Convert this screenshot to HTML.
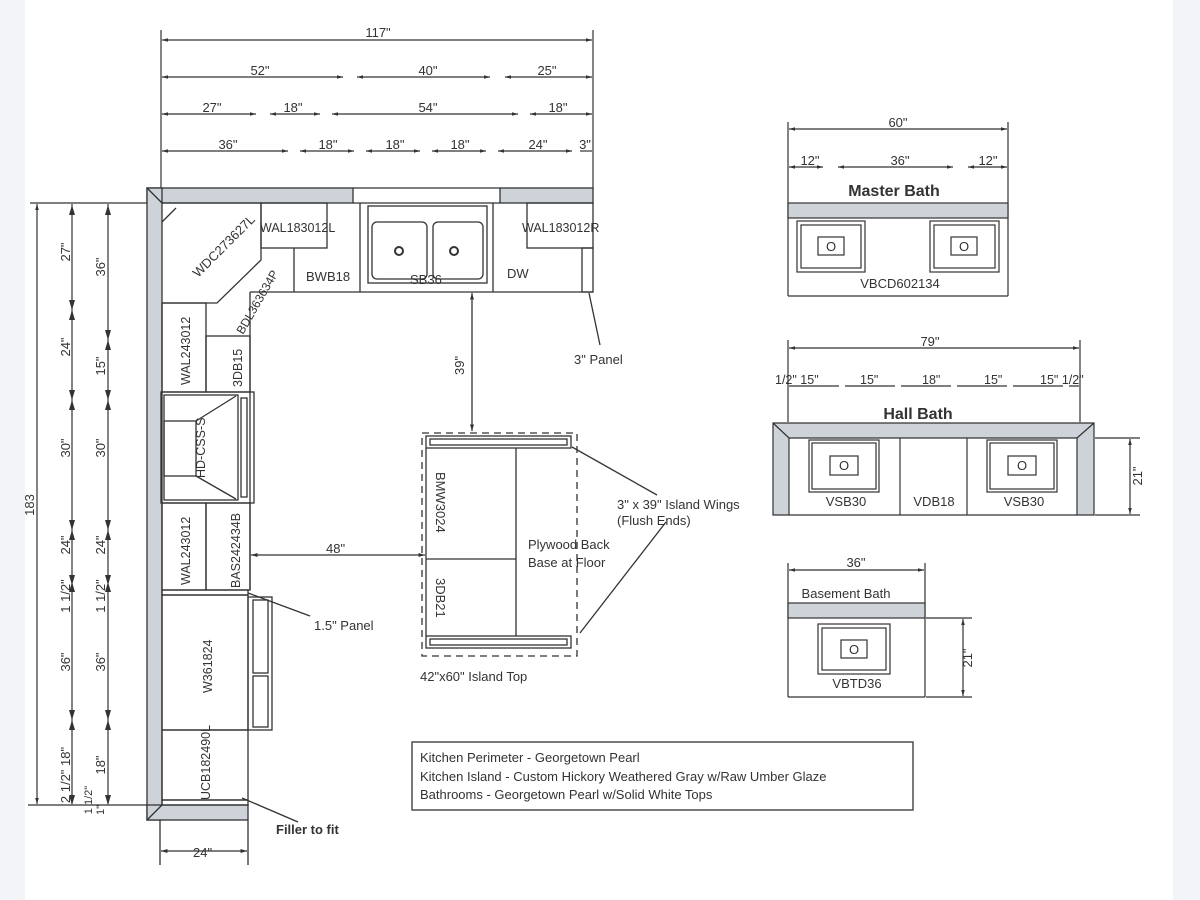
<!DOCTYPE html>
<html><head><meta charset="utf-8"><style>
html,body{margin:0;padding:0;background:#f3f4f7;}
svg{display:block;}
text{font-family:"Liberation Sans","DejaVu Sans",sans-serif;fill:#333;}
</style></head><body>
<svg width="1200" height="900" viewBox="0 0 1200 900" xmlns="http://www.w3.org/2000/svg">
<defs>
<marker id="a" viewBox="0 0 10 10" refX="10" refY="5" markerWidth="7" markerHeight="5" orient="auto-start-reverse"><path d="M0,2 L10,5 L0,8z" fill="#333"/></marker>
</defs>
<rect x="25" y="0" width="1148" height="900" fill="#fff"/>
<g stroke="#333" stroke-width="1.2" fill="none">
<!-- top dims -->
<line x1="161" y1="30" x2="161" y2="190"/><line x1="593" y1="30" x2="593" y2="190"/>
<line x1="162" y1="40" x2="592" y2="40" marker-start="url(#a)" marker-end="url(#a)"/>
<line x1="162" y1="77" x2="343" y2="77" marker-start="url(#a)" marker-end="url(#a)"/>
<line x1="357" y1="77" x2="490" y2="77" marker-start="url(#a)" marker-end="url(#a)"/>
<line x1="505" y1="77" x2="592" y2="77" marker-start="url(#a)" marker-end="url(#a)"/>
<line x1="162" y1="114" x2="256" y2="114" marker-start="url(#a)" marker-end="url(#a)"/>
<line x1="270" y1="114" x2="320" y2="114" marker-start="url(#a)" marker-end="url(#a)"/>
<line x1="332" y1="114" x2="518" y2="114" marker-start="url(#a)" marker-end="url(#a)"/>
<line x1="530" y1="114" x2="592" y2="114" marker-start="url(#a)" marker-end="url(#a)"/>
<line x1="162" y1="151" x2="288" y2="151" marker-start="url(#a)" marker-end="url(#a)"/>
<line x1="300" y1="151" x2="354" y2="151" marker-start="url(#a)" marker-end="url(#a)"/>
<line x1="366" y1="151" x2="420" y2="151" marker-start="url(#a)" marker-end="url(#a)"/>
<line x1="432" y1="151" x2="486" y2="151" marker-start="url(#a)" marker-end="url(#a)"/>
<line x1="498" y1="151" x2="572" y2="151" marker-start="url(#a)" marker-end="url(#a)"/>
<line x1="580" y1="151" x2="592" y2="151"/>
<!-- left dims -->
<line x1="30" y1="203" x2="147" y2="203"/><line x1="28" y1="805" x2="147" y2="805"/>
<line x1="37" y1="204" x2="37" y2="804" marker-start="url(#a)" marker-end="url(#a)"/>
<line x1="72" y1="204" x2="72" y2="804"/>
<line x1="108" y1="204" x2="108" y2="804"/>
</g>
<g fill="#333">
<path d="M69,215 L72,205 L75,215z M69,300 L72,310 L75,300z M69,320 L72,310 L75,320z M69,390 L72,400 L75,390z M69,410 L72,400 L75,410z M69,520 L72,530 L75,520z M69,540 L72,530 L75,540z M69,575 L72,585 L75,575z M69,592 L72,582 L75,592z M69,710 L72,720 L75,710z M69,730 L72,720 L75,730z M69,795 L72,805 L75,795z"/>
<path d="M105,215 L108,205 L111,215z M105,330 L108,340 L111,330z M105,350 L108,340 L111,350z M105,390 L108,400 L111,390z M105,410 L108,400 L111,410z M105,520 L108,530 L111,520z M105,540 L108,530 L111,540z M105,575 L108,585 L111,575z M105,592 L108,582 L111,592z M105,710 L108,720 L111,710z M105,730 L108,720 L111,730z M105,795 L108,805 L111,795z"/>
</g>
<g font-size="13">
<text x="378" y="37" text-anchor="middle">117"</text>
<text x="260" y="75" text-anchor="middle">52"</text><text x="428" y="75" text-anchor="middle">40"</text><text x="547" y="75" text-anchor="middle">25"</text>
<text x="212" y="112" text-anchor="middle">27"</text><text x="293" y="112" text-anchor="middle">18"</text><text x="428" y="112" text-anchor="middle">54"</text><text x="558" y="112" text-anchor="middle">18"</text>
<text x="228" y="149" text-anchor="middle">36"</text><text x="328" y="149" text-anchor="middle">18"</text><text x="395" y="149" text-anchor="middle">18"</text><text x="460" y="149" text-anchor="middle">18"</text><text x="538" y="149" text-anchor="middle">24"</text><text x="585" y="149" text-anchor="middle">3"</text>
</g>
<g font-size="13">
<text transform="translate(34,505) rotate(-90)" text-anchor="middle">183</text>
<text transform="translate(70,252) rotate(-90)" text-anchor="middle">27"</text>
<text transform="translate(70,347) rotate(-90)" text-anchor="middle">24"</text>
<text transform="translate(70,448) rotate(-90)" text-anchor="middle">30"</text>
<text transform="translate(70,545) rotate(-90)" text-anchor="middle">24"</text>
<text transform="translate(70,596) rotate(-90)" text-anchor="middle">1 1/2"</text>
<text transform="translate(70,662) rotate(-90)" text-anchor="middle">36"</text>
<text transform="translate(70,775) rotate(-90)" text-anchor="middle">2 1/2" 18"</text>
<text transform="translate(105,267) rotate(-90)" text-anchor="middle">36"</text>
<text transform="translate(105,366) rotate(-90)" text-anchor="middle">15"</text>
<text transform="translate(105,448) rotate(-90)" text-anchor="middle">30"</text>
<text transform="translate(105,545) rotate(-90)" text-anchor="middle">24"</text>
<text transform="translate(105,596) rotate(-90)" text-anchor="middle">1 1/2"</text>
<text transform="translate(105,662) rotate(-90)" text-anchor="middle">36"</text>
<text transform="translate(105,765) rotate(-90)" text-anchor="middle">18"</text>
<text transform="translate(92,800) rotate(-90)" text-anchor="middle" font-size="11">1 1/2"</text>
<text transform="translate(104,810) rotate(-90)" text-anchor="middle" font-size="11">1"</text>
</g>
<!-- walls -->
<g stroke="#333" stroke-width="1.3" fill="#cdd3d8">
<rect x="147" y="188" width="206" height="15"/>
<rect x="500" y="188" width="93" height="15"/>
<rect x="147" y="188" width="15" height="632"/>
<rect x="147" y="805" width="101" height="15"/>
</g>
<g stroke="#333" stroke-width="1.3" fill="none">
<line x1="353" y1="188" x2="500" y2="188"/><line x1="353" y1="203" x2="500" y2="203"/>
<line x1="147" y1="188" x2="162" y2="203"/><line x1="147" y1="820" x2="162" y2="805"/>
<!-- corner WDC -->
<path d="M162,203 L261,203 L261,260 L217,303 L162,303"/>
<line x1="162" y1="222" x2="176" y2="208"/>
<rect x="261" y="203" width="66" height="45"/>
<rect x="527" y="203" width="66" height="45"/>
<line x1="250" y1="292" x2="593" y2="292"/>
<line x1="294" y1="248" x2="294" y2="292"/>
<line x1="360" y1="203" x2="360" y2="292"/>
<line x1="493" y1="203" x2="493" y2="292"/>
<rect x="582" y="248" width="11" height="44"/>
<rect x="368" y="206" width="119" height="77"/>
<rect x="372" y="222" width="55" height="57" rx="5"/>
<rect x="433" y="222" width="50" height="57" rx="5"/>
<circle cx="399" cy="251" r="4" stroke-width="2"/><circle cx="454" cy="251" r="4" stroke-width="2"/>
<!-- left column -->
<line x1="250" y1="292" x2="250" y2="590"/>
<rect x="162" y="303" width="44" height="89"/>
<rect x="206" y="336" width="44" height="56"/>
<rect x="161" y="392" width="93" height="111"/>
<rect x="164" y="395" width="74" height="105"/>
<rect x="164" y="421" width="32" height="55"/>
<line x1="196" y1="421" x2="236" y2="396"/><line x1="196" y1="476" x2="236" y2="499"/>
<rect x="241" y="398" width="6" height="99"/>
<rect x="162" y="503" width="44" height="87"/>
<rect x="206" y="503" width="44" height="87"/>
<rect x="162" y="590" width="86" height="5"/>
<rect x="162" y="595" width="86" height="135"/>
<rect x="248" y="597" width="24" height="133"/>
<rect x="253" y="600" width="15" height="73"/><rect x="253" y="676" width="15" height="51"/>
<rect x="162" y="730" width="86" height="70"/>
<rect x="162" y="800" width="86" height="5"/>
<!-- bottom dim -->
<line x1="160" y1="820" x2="160" y2="865"/><line x1="248" y1="820" x2="248" y2="865"/>
<line x1="161" y1="851" x2="247" y2="851" marker-start="url(#a)" marker-end="url(#a)"/>
<!-- leaders -->
<line x1="589" y1="293" x2="600" y2="345"/>
<line x1="248" y1="593" x2="310" y2="616"/>
<line x1="242" y1="798" x2="298" y2="822"/>
<line x1="572" y1="447" x2="657" y2="495"/>
<line x1="580" y1="633" x2="666" y2="522"/>
<!-- 39 and 48 -->
<line x1="472" y1="293" x2="472" y2="431" marker-start="url(#a)" marker-end="url(#a)"/>
<line x1="251" y1="555" x2="425" y2="555" marker-start="url(#a)" marker-end="url(#a)"/>
<!-- island -->
<rect x="422" y="433" width="155" height="223" stroke-dasharray="7,5"/>
<rect x="426" y="436" width="145" height="12"/><rect x="430" y="439" width="137" height="6"/>
<rect x="426" y="636" width="145" height="12"/><rect x="430" y="639" width="137" height="6"/>
<line x1="426" y1="448" x2="426" y2="636"/>
<line x1="516" y1="448" x2="516" y2="636"/>
<line x1="426" y1="559" x2="516" y2="559"/>
<!-- legend -->
<rect x="412" y="742" width="501" height="68"/>
</g>
<g font-size="13">
<text transform="translate(198,278) rotate(-45)">WDC273627L</text>
<text x="260" y="232" font-size="12.5">WAL183012L</text>
<text x="522" y="232" font-size="12.5">WAL183012R</text>
<text x="306" y="281">BWB18</text>
<text x="410" y="284">SB36</text>
<text x="507" y="278">DW</text>
<text transform="translate(243,335) rotate(-60)" font-size="12">BDL363634P</text>
<text transform="translate(190,385) rotate(-90)" font-size="12.5">WAL243012</text>
<text transform="translate(242,387) rotate(-90)" font-size="12.5">3DB15</text>
<text transform="translate(205,478) rotate(-90)" font-size="12.5">HD-CSS-S</text>
<text transform="translate(190,585) rotate(-90)" font-size="12.5">WAL243012</text>
<text transform="translate(240,588) rotate(-90)" font-size="12.5">BAS242434B</text>
<text transform="translate(212,693) rotate(-90)" font-size="12.5">W361824</text>
<text transform="translate(210,800) rotate(-90)" font-size="12.5">UCB182490L</text>
<text x="574" y="364">3" Panel</text>
<text x="314" y="630">1.5" Panel</text>
<text x="276" y="834" font-weight="bold" fill="#444">Filler to fit</text>
<text x="193" y="857">24"</text>
<text transform="translate(464,375) rotate(-90)">39"</text>
<text x="326" y="553">48"</text>
<text transform="translate(436,472) rotate(90)">BMW3024</text>
<text transform="translate(436,578) rotate(90)">3DB21</text>
<text x="528" y="549">Plywood Back</text>
<text x="528" y="567">Base at Floor</text>
<text x="617" y="509">3" x 39" Island Wings</text>
<text x="617" y="525">(Flush Ends)</text>
<text x="420" y="681">42"x60" Island Top</text>
<text x="420" y="762">Kitchen Perimeter - Georgetown Pearl</text>
<text x="420" y="781">Kitchen Island - Custom Hickory Weathered Gray w/Raw Umber Glaze</text>
<text x="420" y="799">Bathrooms - Georgetown Pearl w/Solid White Tops</text>
</g>
<!-- Master bath -->
<g stroke="#333" stroke-width="1.2" fill="none">
<line x1="788" y1="122" x2="788" y2="296"/><line x1="1008" y1="122" x2="1008" y2="296"/>
<line x1="789" y1="129" x2="1007" y2="129" marker-start="url(#a)" marker-end="url(#a)"/>
<line x1="789" y1="167" x2="823" y2="167" marker-start="url(#a)" marker-end="url(#a)"/>
<line x1="838" y1="167" x2="953" y2="167" marker-start="url(#a)" marker-end="url(#a)"/>
<line x1="968" y1="167" x2="1007" y2="167" marker-start="url(#a)" marker-end="url(#a)"/>
<rect x="788" y="203" width="220" height="15" fill="#cdd3d8"/>
<line x1="788" y1="296" x2="1008" y2="296"/>
<rect x="797" y="221" width="68" height="51"/><rect x="801" y="225" width="60" height="43"/>
<rect x="818" y="237" width="26" height="18"/>
<rect x="930" y="221" width="69" height="51"/><rect x="934" y="225" width="61" height="43"/>
<rect x="951" y="237" width="26" height="18"/>
<!-- hall bath -->
<line x1="788" y1="340" x2="788" y2="422"/><line x1="1080" y1="340" x2="1080" y2="422"/>
<line x1="789" y1="348" x2="1079" y2="348" marker-start="url(#a)" marker-end="url(#a)"/>
<line x1="789" y1="386" x2="1079" y2="386" stroke-dasharray="50,6"/>
<path d="M773,423 L1094,423 L1094,515 L1077,515 L1077,438 L789,438 L789,515 L773,515z" fill="#cdd3d8"/>
<line x1="773" y1="423" x2="789" y2="438"/><line x1="1094" y1="423" x2="1077" y2="438"/>
<line x1="789" y1="515" x2="1077" y2="515"/>
<line x1="900" y1="438" x2="900" y2="515"/><line x1="967" y1="438" x2="967" y2="515"/>
<rect x="809" y="440" width="70" height="52"/><rect x="812" y="443" width="64" height="46"/>
<rect x="830" y="456" width="28" height="19"/>
<rect x="987" y="440" width="70" height="52"/><rect x="990" y="443" width="64" height="46"/>
<rect x="1008" y="456" width="28" height="19"/>
<line x1="1095" y1="438" x2="1140" y2="438"/><line x1="1095" y1="515" x2="1140" y2="515"/>
<line x1="1130" y1="439" x2="1130" y2="514" marker-start="url(#a)" marker-end="url(#a)"/>
<!-- basement -->
<line x1="788" y1="563" x2="788" y2="697"/><line x1="925" y1="563" x2="925" y2="697"/>
<line x1="789" y1="570" x2="924" y2="570" marker-start="url(#a)" marker-end="url(#a)"/>
<rect x="788" y="603" width="137" height="15" fill="#cdd3d8"/>
<line x1="788" y1="697" x2="925" y2="697"/>
<rect x="818" y="624" width="72" height="50"/><rect x="822" y="628" width="64" height="42"/>
<rect x="841" y="640" width="26" height="18"/>
<line x1="926" y1="618" x2="972" y2="618"/><line x1="926" y1="697" x2="972" y2="697"/>
<line x1="963" y1="619" x2="963" y2="696" marker-start="url(#a)" marker-end="url(#a)"/>
</g>
<g font-size="13">
<text x="898" y="127" text-anchor="middle">60"</text>
<text x="810" y="165" text-anchor="middle">12"</text><text x="900" y="165" text-anchor="middle">36"</text><text x="988" y="165" text-anchor="middle">12"</text>
<text x="894" y="196" text-anchor="middle" font-size="16" font-weight="bold" fill="#555">Master Bath</text>
<text x="831" y="251" text-anchor="middle">O</text><text x="964" y="251" text-anchor="middle">O</text>
<text x="900" y="288" text-anchor="middle">VBCD602134</text>
<text x="930" y="346" text-anchor="middle">79"</text>
<text x="775" y="384" font-size="12.5">1/2" 15"</text>
<text x="860" y="384" font-size="12.5">15"</text>
<text x="922" y="384" font-size="12.5">18"</text>
<text x="984" y="384" font-size="12.5">15"</text>
<text x="1040" y="384" font-size="12.5">15" 1/2"</text>
<text x="918" y="419" text-anchor="middle" font-size="16" font-weight="bold" fill="#555">Hall Bath</text>
<text x="844" y="470" text-anchor="middle">O</text><text x="1022" y="470" text-anchor="middle">O</text>
<text x="846" y="506" text-anchor="middle">VSB30</text>
<text x="934" y="506" text-anchor="middle">VDB18</text>
<text x="1024" y="506" text-anchor="middle">VSB30</text>
<text transform="translate(1142,476) rotate(-90)" text-anchor="middle">21"</text>
<text x="856" y="567" text-anchor="middle">36"</text>
<text x="846" y="598" text-anchor="middle" fill="#444">Basement Bath</text>
<text x="854" y="654" text-anchor="middle">O</text>
<text x="857" y="688" text-anchor="middle">VBTD36</text>
<text transform="translate(972,658) rotate(-90)" text-anchor="middle">21"</text>
</g>
</svg>
</body></html>
